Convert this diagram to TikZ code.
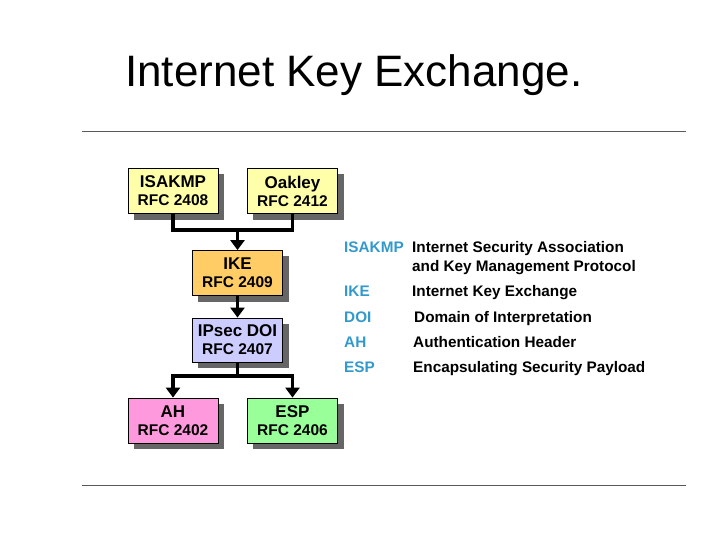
\documentclass[tikz,border=0pt]{standalone}
\usepackage{fontspec}
\setmainfont{Liberation Sans}
\usetikzlibrary{arrows.meta}
\definecolor{cyel}{HTML}{FFFFAA}
\definecolor{corg}{HTML}{FFCC66}
\definecolor{clav}{HTML}{CCCCFF}
\definecolor{cpink}{HTML}{FF99DD}
\definecolor{cgrn}{HTML}{99FF99}
\definecolor{cterm}{HTML}{3399CC}
\definecolor{cshad}{HTML}{666666}
\begin{document}
\begin{tikzpicture}[x=1pt,y=-1pt,
  rfcbox/.style={draw=black,line width=0.8pt,minimum width=90pt,minimum height=45pt,inner sep=0pt,align=center,
    font=\bfseries\fontsize{17}{19}\selectfont},
  rfc/.style={},
  conn/.style={line width=3.5pt},
  arr/.style={line width=3.5pt,-{Triangle[length=10pt,width=14pt]}},
  term/.style={anchor=base west,text=cterm,font=\bfseries\fontsize{15.3}{17}\selectfont,inner sep=0pt},
  defn/.style={anchor=base west,font=\bfseries\fontsize{15.3}{17}\selectfont,inner sep=0pt}]
\useasboundingbox (0,0) rectangle (720,540);
% shadows
\foreach \a/\b/\c/\d in {128/168/218/214,247/168/338/214,192/250/283/296,192/318/283/362,128/398/218/443,247/398/338/443}
  \fill[cshad] (\a+6,\b+6) rectangle (\c+6,\d+6);
\newcommand\rfcline[1]{{\fontsize{15.5}{17}\selectfont #1}}
\node[rfcbox,fill=cyel] (isakmp) at (173,191) {ISAKMP\\[-1pt]\rfcline{RFC 2408}};
\node[rfcbox,fill=cyel] (oakley) at (292.5,191) {Oakley\\[-1pt]\rfcline{RFC 2412}};
\node[rfcbox,fill=corg] (ike) at (237.5,273) {IKE\\[-1pt]\rfcline{RFC 2409}};
\node[rfcbox,fill=clav,minimum height=44pt] (doi) at (237.5,340) {IPsec DOI\\[-1pt]\rfcline{RFC 2407}};
\node[rfcbox,fill=cpink] (ah) at (173,420.5) {AH\\[-1pt]\rfcline{RFC 2402}};
\node[rfcbox,fill=cgrn] (esp) at (292.5,420.5) {ESP\\[-1pt]\rfcline{RFC 2406}};
\coordinate (j1) at (237.5,230);
\coordinate (j2) at (237.5,376);
\draw[conn] (isakmp.south) |- (j1) -| (oakley.south);
\draw[arr] (j1) -- (ike.north);
\draw[arr] (ike.south) -- (doi.north);
\draw[conn] (doi.south) -- (j2);
\draw[arr] (j2) -| (ah.north);
\draw[arr] (j2) -| (esp.north);
% title and rules
\node[anchor=base west,inner sep=0pt,font=\fontsize{44}{50}\selectfont] (title) at (125,87) {Internet Key Exchange.};
\draw[gray!70!black,line width=0.8pt] (82,131) coordinate (r1a) -- (686,131) coordinate (r1b);
\draw[gray!70!black,line width=0.8pt] (82,485) coordinate (r2a) -- (686,485) coordinate (r2b);
% legend
\node[term] (t1) at (344,252) {ISAKMP};
\node[defn] (d1) at (412,252) {Internet Security Association};
\node[defn] (d1b) at (412,271) {and Key Management Protocol};
\node[term] (t2) at (344,296) {IKE};
\node[defn] (d2) at (412,296) {Internet Key Exchange};
\node[term] (t3) at (344,322) {DOI};
\node[defn] (d3) at (414,322) {Domain of Interpretation};
\node[term] (t4) at (344,347) {AH};
\node[defn] (d4) at (413,347) {Authentication Header};
\node[term] (t5) at (344,372) {ESP};
\node[defn] (d5) at (413,372) {Encapsulating Security Payload};
\end{tikzpicture}
\end{document}
